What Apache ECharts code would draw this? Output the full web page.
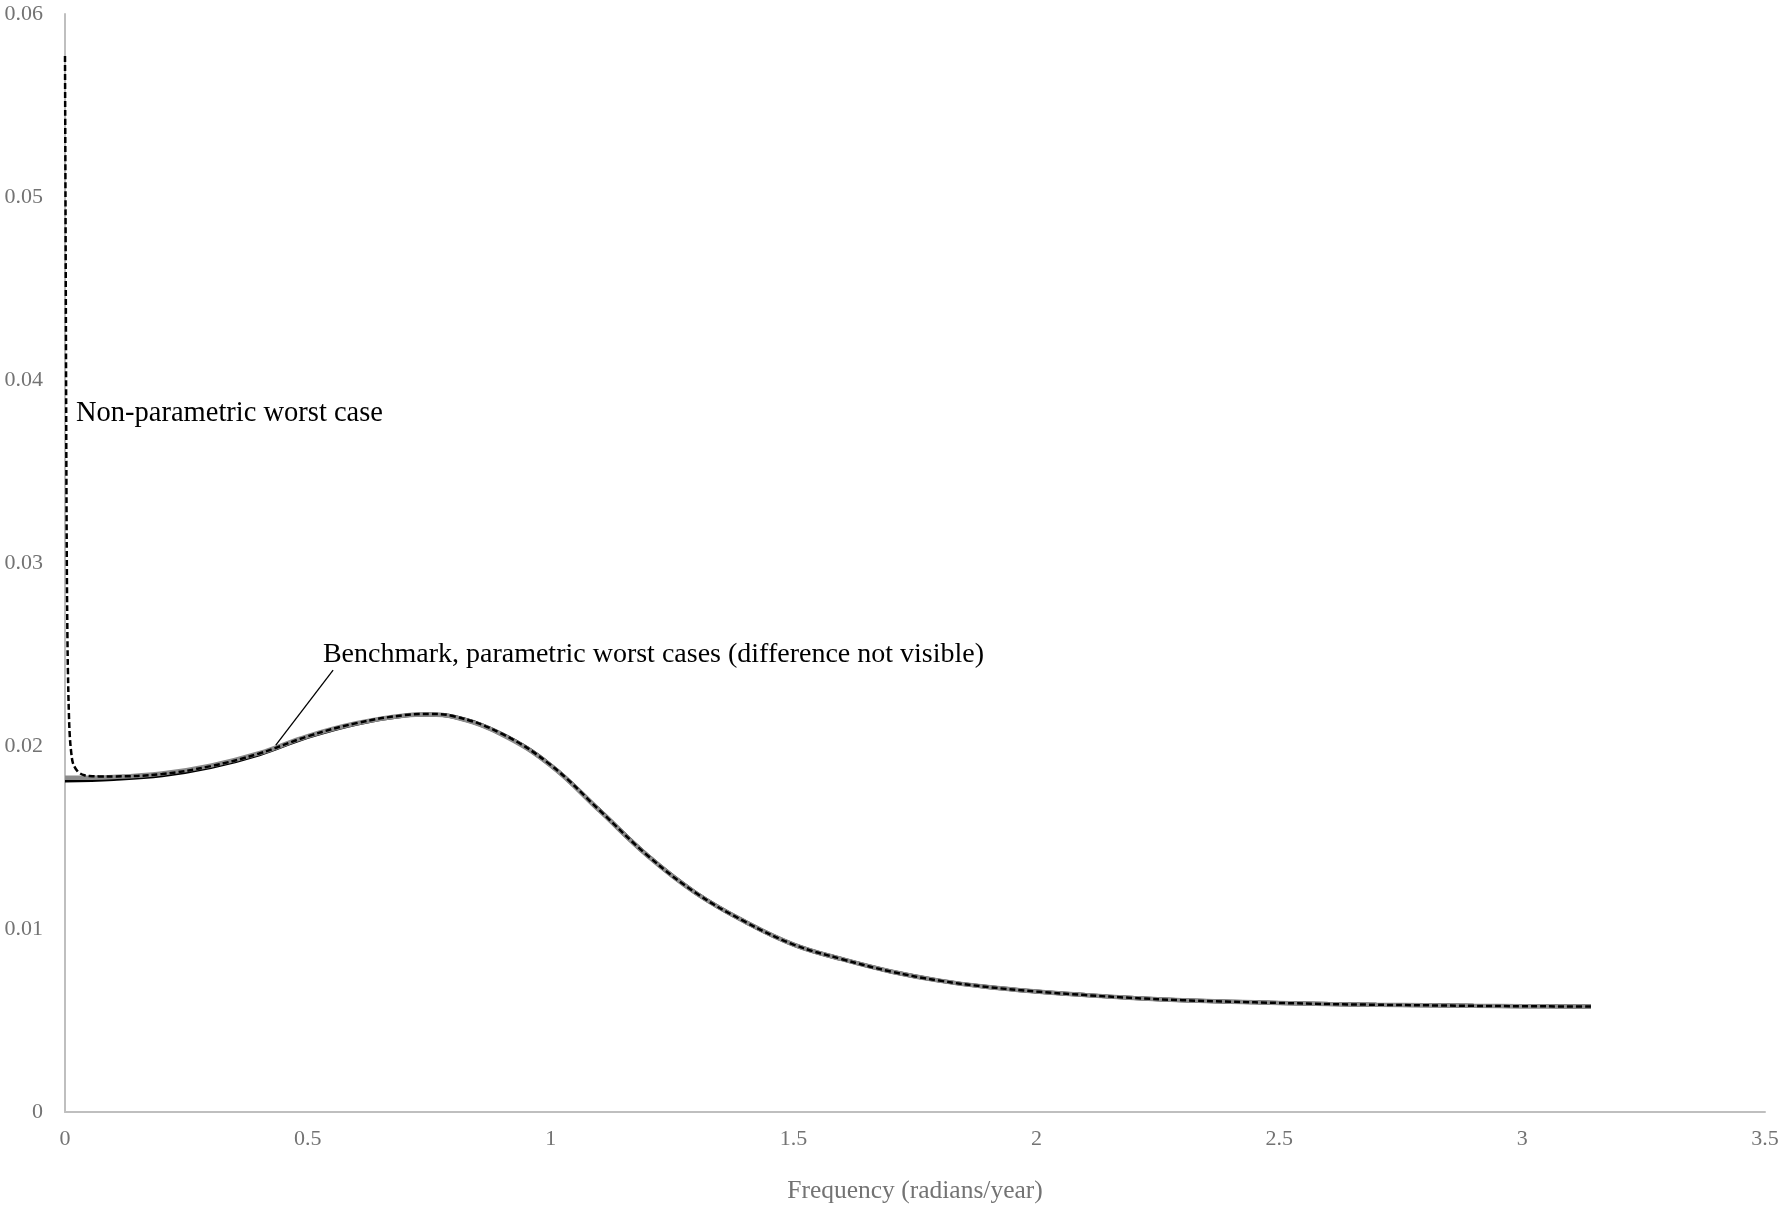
<!DOCTYPE html>
<html>
<head>
<meta charset="utf-8">
<script src="https://cdn.jsdelivr.net/npm/echarts@6/dist/echarts.min.js"></script>
<style>
html,body{margin:0;padding:0;background:#fff;}
#chart{width:1782px;height:1209px;}
</style>
</head>
<body>
<div id="chart"></div>
<script>
// Frequency grid (radians/year)
const freq = [0,0.1,0.2,0.3,0.4,0.5,0.6,0.7,0.75,0.8,0.9,1.0,1.1,1.2,1.3,1.4,1.5,1.6,1.7,1.8,1.9,2.0,2.1,2.2,2.3,2.4,2.5,2.6,2.7,2.8,2.9,3.0,3.1,3.1416];
// Parametric worst case (black solid)
const parametric = [0.01812,0.01820,0.01840,0.01885,0.01955,0.02050,0.02122,0.02166,0.02172,0.02160,0.02064,0.01895,0.01650,0.01400,0.01195,0.01040,0.00915,0.00835,0.00768,0.00718,0.00683,0.00658,0.00639,0.00623,0.00611,0.00603,0.00596,0.00590,0.00586,0.00583,0.00580,0.00578,0.00577,0.00577];
// Benchmark (grey, thick)
const benchmark = [0.01826,0.01831,0.01850,0.01893,0.01961,0.02054,0.02124,0.02167,0.02172,0.02159,0.02062,0.01893,0.01648,0.01399,0.01194,0.01040,0.00915,0.00835,0.00768,0.00718,0.00683,0.00658,0.00639,0.00623,0.00611,0.00603,0.00596,0.00590,0.00586,0.00583,0.00580,0.00578,0.00577,0.00577];
// Non-parametric worst case (black dashed): spike near zero, then the common grid
const npFreq = [0,0.001,0.002,0.003,0.004,0.005,0.006,0.008,0.010,0.013,0.016,0.02,0.025,0.03,0.04,0.05,0.07,0.1,0.2,0.3,0.4,0.5,0.6,0.7,0.75,0.8,0.9,1.0,1.1,1.2,1.3,1.4,1.5,1.6,1.7,1.8,1.9,2.0,2.1,2.2,2.3,2.4,2.5,2.6,2.7,2.8,2.9,3.0,3.1,3.1416];
const nonParametric = [0.0577,0.0500,0.0420,0.0340,0.0290,0.0260,0.0241,0.0218,0.0205,0.0196,0.0191,0.01885,0.01865,0.01852,0.01840,0.01836,0.01834,0.01834,0.01847,0.01890,0.01959,0.02053,0.02125,0.02169,0.02175,0.02163,0.02066,0.01896,0.01650,0.01400,0.01195,0.01040,0.00915,0.00835,0.00768,0.00718,0.00683,0.00658,0.00639,0.00623,0.00611,0.00603,0.00596,0.00590,0.00586,0.00583,0.00580,0.00578,0.00577,0.00577];

const xTicks = [0,0.5,1,1.5,2,2.5,3,3.5];
const yTicks = [0,0.01,0.02,0.03,0.04,0.05,0.06];

const FONT = '"Liberation Serif","DejaVu Serif",serif';

const zip = (xs, ys) => xs.map((x, i) => [x, ys[i]]);

const chart = echarts.init(document.getElementById('chart'), null, {renderer: 'canvas'});
const option = {
  animation: false,
  backgroundColor: '#ffffff',
  grid: {left: 65, right: 17, top: 14, bottom: 82, containLabel: false},
  xAxis: {
    type: 'value', min: 0, max: 3.5, interval: 0.5,
    name: 'Frequency (radians/year)', nameLocation: 'middle', nameGap: 66,
    nameTextStyle: {fontFamily: FONT, fontSize: 25.5, color: '#737373'},
    axisLine: {show: true, lineStyle: {color: '#bfbfbf', width: 2}},
    axisTick: {show: false},
    splitLine: {show: false},
    axisLabel: {fontFamily: FONT, fontSize: 22, color: '#737373', margin: 16,
      formatter: v => String(v)}
  },
  yAxis: {
    type: 'value', min: 0, max: 0.06, interval: 0.01,
    axisLine: {show: true, lineStyle: {color: '#bfbfbf', width: 2}},
    axisTick: {show: false},
    splitLine: {show: false},
    axisLabel: {fontFamily: FONT, fontSize: 22, color: '#737373', margin: 22,
      formatter: v => v === 0 ? '0' : v.toFixed(2)}
  },
  series: [
    {
      name: 'Parametric worst case', type: 'line', data: zip(freq, parametric),
      smooth: 0.4, symbol: 'none',
      lineStyle: {color: '#000000', width: 4}, z: 1,
      markLine: {
        silent: true, symbol: 'none',
        lineStyle: {color: '#000', width: 1.3, type: 'solid'},
        label: {show: false},
        data: [[{coord: [0.434, 0.02005]}, {coord: [0.552, 0.02415]}]]
      }
    },
    {
      name: 'Benchmark', type: 'line', data: zip(freq, benchmark),
      smooth: 0.4, symbol: 'none',
      lineStyle: {color: '#8c8c8c', width: 4.5}, z: 2
    },
    {
      name: 'Non-parametric worst case', type: 'line', data: zip(npFreq, nonParametric),
      smooth: 0.4, symbol: 'none',
      lineStyle: {color: '#000000', width: 2.5, type: [6, 3]}, z: 3
    }
  ]
};
chart.setOption(option);

// Annotations anchored to data coordinates
const labelNP = chart.convertToPixel({gridIndex: 0}, [0.0226, 0.03817]);
const labelBM = chart.convertToPixel({gridIndex: 0}, [0.531, 0.02501]);
chart.setOption({
  graphic: [
    {type: 'text', x: labelNP[0], y: labelNP[1],
      style: {text: 'Non-parametric worst case', font: '28.5px ' + FONT, fill: '#000', verticalAlign: 'middle', align: 'left'}},
    {type: 'text', x: labelBM[0], y: labelBM[1],
      style: {text: 'Benchmark, parametric worst cases (difference not visible)', font: '28px ' + FONT, fill: '#000', verticalAlign: 'middle', align: 'left'}}
  ]
});
</script>
</body>
</html>
